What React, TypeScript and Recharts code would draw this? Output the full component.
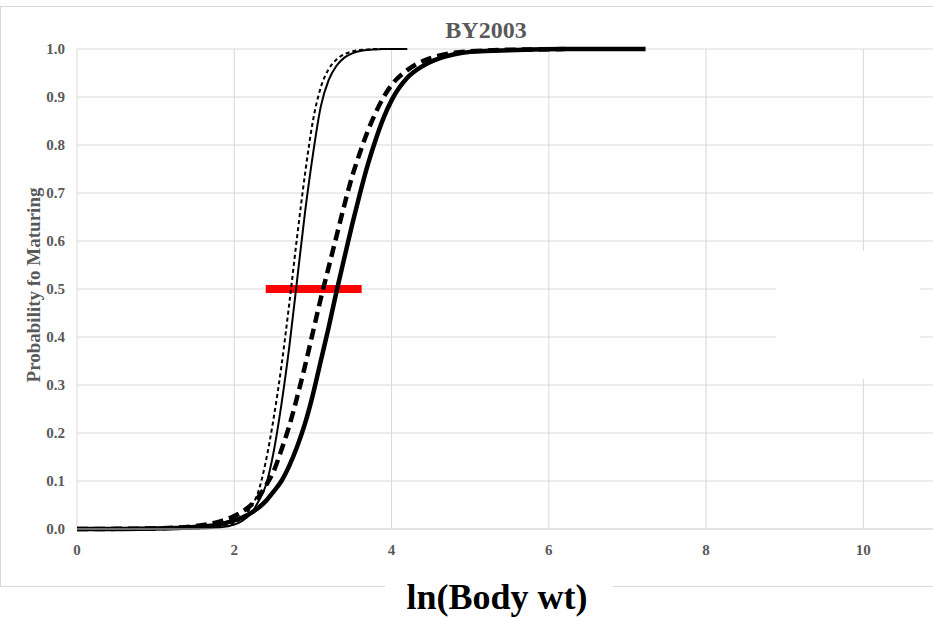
import { LineChart, Line, XAxis, YAxis, CartesianGrid } from "recharts";

// ln(body wt) sample points shared by the four maturation curves
const xValues = [
  0, 0.5, 1.0, 1.5, 1.8, 2.0, 2.1, 2.2, 2.3, 2.4, 2.5, 2.6, 2.7, 2.8, 2.9, 3.0, 3.1, 3.2, 3.3,
  3.4, 3.5, 3.6, 3.7, 3.8, 3.9, 4.0, 4.2, 4.4, 4.6, 4.8, 5.0, 5.4, 5.8, 6.2, 6.6, 7.0, 7.23,
];

// probability (null = curve not drawn there)
const thinDashed = [
  0, 0, 0, 0.001, 0.004, 0.013, 0.024, 0.043, 0.075, 0.14, 0.23, 0.34, 0.47, 0.61, 0.74, 0.85,
  0.92, 0.958, 0.978, 0.989, 0.995, 0.998, 0.999, 1.0, 1.0, 1.0, null, null, null, null, null,
  null, null, null, null, null, null,
];
const thinSolid = [
  0, 0, 0, 0.0005, 0.003, 0.009, 0.017, 0.03, 0.055, 0.09, 0.16, 0.26, 0.38, 0.52, 0.66, 0.78,
  0.88, 0.935, 0.965, 0.982, 0.991, 0.996, 0.998, 0.999, 1.0, 1.0, 1.0, null, null, null, null,
  null, null, null, null, null, null,
];
const thickDashed = [
  0, 0.0003, 0.0012, 0.006, 0.015, 0.027, 0.036, 0.048, 0.065, 0.09, 0.12, 0.165, 0.215, 0.275,
  0.34, 0.41, 0.48, 0.545, 0.61, 0.675, 0.735, 0.785, 0.83, 0.868, 0.9, 0.925, 0.956, 0.975,
  0.986, 0.992, 0.995, 0.998, 0.999, 1.0, null, null, null,
];
const thickSolid = [
  0, 0.0002, 0.0008, 0.004, 0.009, 0.018, 0.024, 0.032, 0.043, 0.058, 0.078, 0.1, 0.132, 0.172,
  0.22, 0.28, 0.35, 0.42, 0.495, 0.565, 0.635, 0.7, 0.76, 0.812, 0.857, 0.893, 0.94, 0.965,
  0.98, 0.989, 0.994, 0.997, 0.999, 1.0, 1.0, 1.0, 1.0,
];

// red marker at p = 0.5
const markerX = [2.4, 3.62];
const markerY = [0.5, 0.5];

const xTicks = [0, 2, 4, 6, 8, 10];
const yTicks = [0, 0.1, 0.2, 0.3, 0.4, 0.5, 0.6, 0.7, 0.8, 0.9, 1.0];

const toPoints = (ys: (number | null)[], xs: number[] = xValues) =>
  xs
    .map((x, i) => ({ x, y: ys[i] }))
    .filter((p) => p.y !== null && p.y !== undefined);

const serif = "'Liberation Serif', 'Times New Roman', serif";
const grey = "#595959";
const gridColor = "#d9d9d9";

export default function App() {
  const tickStyle = { fill: grey, fontSize: 15, fontWeight: 700, fontFamily: serif };

  return (
    <div
      style={{
        position: "absolute",
        left: 0,
        top: 0,
        width: 933,
        height: 619,
        overflow: "hidden",
        background: "#fff",
      }}
    >
      {/* outer chart frame */}
      <div
        style={{
          position: "absolute",
          left: 0,
          top: 6,
          width: 980,
          height: 581,
          border: `1px solid ${gridColor}`,
          boxSizing: "border-box",
        }}
      />
      <div style={{ position: "absolute", left: 0, top: 0 }}>
        <LineChart width={950} height={619} margin={{ top: 49, right: 8, left: 0, bottom: 50 }}>
          <CartesianGrid stroke={gridColor} strokeWidth={1} />
          <XAxis
            type="number"
            dataKey="x"
            domain={[0, 11]}
            ticks={xTicks}
            height={40}
            tick={tickStyle}
            tickLine={false}
            tickMargin={9}
            axisLine={{ stroke: gridColor }}
          />
          <YAxis
            type="number"
            dataKey="y"
            domain={[0, 1]}
            ticks={yTicks}
            width={77}
            tick={tickStyle}
            tickLine={false}
            tickMargin={6}
            axisLine={false}
            tickFormatter={(v: number) => v.toFixed(1)}
          />
          <Line
            data={toPoints(markerY, markerX)}
            dataKey="y"
            stroke="#ff0000"
            strokeWidth={8}
            dot={false}
            isAnimationActive={false}
          />
          <Line
            data={toPoints(thickSolid)}
            dataKey="y"
            type="monotone"
            stroke="#000"
            strokeWidth={4.5}
            dot={false}
            isAnimationActive={false}
          />
          <Line
            data={toPoints(thickDashed)}
            dataKey="y"
            type="monotone"
            stroke="#000"
            strokeWidth={4.5}
            strokeDasharray="11 6"
            dot={false}
            isAnimationActive={false}
          />
          <Line
            data={toPoints(thinSolid)}
            dataKey="y"
            type="monotone"
            stroke="#000"
            strokeWidth={2}
            dot={false}
            isAnimationActive={false}
          />
          <Line
            data={toPoints(thinDashed)}
            dataKey="y"
            type="monotone"
            stroke="#000"
            strokeWidth={2}
            strokeDasharray="4 3"
            dot={false}
            isAnimationActive={false}
          />
        </LineChart>
      </div>
      <svg
        width={933}
        height={619}
        style={{ position: "absolute", left: 0, top: 0, pointerEvents: "none" }}
      >
        {/* empty legend box hides part of the grid */}
        <rect x={776} y={251} width={144} height={128} fill="#fff" />
        <text
          x={486}
          y={38}
          textAnchor="middle"
          fill={grey}
          fontFamily={serif}
          fontWeight={700}
          fontSize={24}
        >
          BY2003
        </text>
        <text
          x={0}
          y={0}
          transform="translate(40 285) rotate(-90)"
          textAnchor="middle"
          fill={grey}
          fontFamily={serif}
          fontWeight={700}
          fontSize={19}
        >
          Probability fo Maturing
        </text>
        <rect x={385} y={578} width={228} height={41} fill="#fff" />
        <text
          x={497}
          y={609}
          textAnchor="middle"
          fill="#000"
          fontFamily={serif}
          fontWeight={700}
          fontSize={36}
        >
          ln(Body wt)
        </text>
      </svg>
    </div>
  );
}
